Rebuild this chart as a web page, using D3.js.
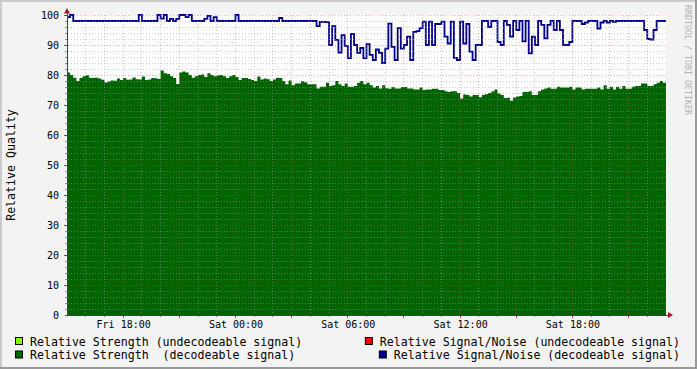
<!DOCTYPE html>
<html><head><meta charset="utf-8">
<script src="https://cdn.jsdelivr.net/npm/d3@7"></script>
<style>html,body{margin:0;padding:0;background:#f3f3f3;overflow:hidden}svg{display:block}</style>
</head><body>
<svg id="chart" width="697" height="369"></svg>
<script>
// ---- data ----
const startTime = new Date(2000, 0, 7, 15, 0);   // Fri 15:00
const endTime   = new Date(2000, 0, 8, 23, 0);   // Sat 23:00
const stepMinutes = 10;

// Relative Strength (decodeable signal), one value per 10 minutes
const strengthDecodeable = [
  80.8,80.0,79.1,78.0,79.0,79.6,79.9,79.1,79.0,79.1,78.8,78.4,77.5,77.8,78.2,78.1,
  78.8,78.3,79.0,78.4,78.5,79.2,78.6,78.5,79.5,78.3,78.5,79.0,78.9,78.7,81.5,80.6,
  80.3,79.6,79.0,77.0,80.8,81.2,80.8,80.0,79.1,79.6,80.0,80.2,79.3,80.6,80.0,79.6,
  79.8,80.0,79.6,79.0,79.6,80.0,79.3,78.3,79.0,79.0,78.7,78.3,78.0,79.5,78.5,78.8,78.6,
  78.0,78.5,79.1,79.0,78.0,76.9,78.2,76.6,77.2,77.2,77.9,77.6,76.9,76.9,76.9,75.5,
  76.1,76.1,77.4,76.3,76.6,78.0,76.9,76.3,77.2,76.1,76.1,76.3,77.4,78.0,76.9,77.4,
  76.6,75.8,76.3,75.5,76.6,75.6,75.4,76.0,75.5,75.5,76.0,76.0,75.5,75.5,75.2,75.2,
  75.8,75.0,75.2,75.2,75.4,75.4,75.0,75.0,74.6,74.3,74.6,74.6,74.0,72.2,73.5,73.3,
  72.8,73.3,73.3,72.6,73.3,73.6,74.0,74.5,75.2,73.8,73.3,72.3,72.4,71.4,72.5,72.8,
  73.0,74.3,74.3,74.6,73.3,73.3,74.6,75.2,75.5,75.8,75.4,75.4,76.1,75.8,75.8,75.8,
  76.1,75.2,75.8,75.8,75.2,75.4,75.4,75.4,75.4,75.8,75.2,76.6,75.4,76.1,75.2,76.1,
  75.4,76.3,75.4,75.4,76.1,76.3,76.3,77.2,77.2,76.3,76.3,76.9,77.4,78.0,77.4
];

// Relative Signal/Noise (decodeable signal), one value per 10 minutes
const snDecodeable = [
  99.3,100,98,98,98,98,98,98,98,98,98,98,98,98,98,98,98,98,98,98,98,98,98,100,
  98,98,98,98,98,100,98.8,100,
  98,98.7,98,98.7,100,100,99.3,100,98,98,98,98,98.7,99.7,98,99.3,
  98,98,98,98,98,98,100,98,98,98,98,98,98,98,98,98,98,98,98,98,99,
  98,98,98,98,98,98,98,98,98,98,98,
  96.3,97.7,97.7,97.6,90,96.3,91.7,87.5,93.3,89.7,85.6,93.7,90,87.4,89,85.6,90.3,
  86.7,85,88.5,87.4,84,88.8,97.1,89.4,85,95.6,88.8,90,92.8,85,94.4,94.6,95.6,97.8,
  90,97.8,90,97,97,97.8,92.8,90.5,97.8,85.7,85,97.8,90.5,97,
  87.8,85,90,90,98,98,96,98,98,91,90,98,96.7,92.8,98,95,98,91.2,98,87.2,92.8,90,
  98,96.7,92.2,96.7,98,95,98,95,90,90,
  91,98,98,98,97,97.5,98,98,98,95.5,97.5,98,97.5,98,97.7,
  98,98,98,98,98,98,98,98,98,95,92,91.8,95,98,98,98
];

const yTicks = [0,10,20,30,40,50,60,70,80,90,100];
const xTickTimes = [new Date(2000,0,7,18), new Date(2000,0,8,0), new Date(2000,0,8,6),
                    new Date(2000,0,8,12), new Date(2000,0,8,18)];
const xTickLabels = ["Fri 18:00","Sat 00:00","Sat 06:00","Sat 12:00","Sat 18:00"];

const legendLeft  = ["Relative Strength (undecodeable signal)", "Relative Strength  (decodeable signal)"];
const legendLeftColors = ["#7fff00", "#006600"];
const legendRight = ["Relative Signal/Noise (undecodeable signal)", "Relative Signal/Noise (decodeable signal)"];
const legendRightColors = ["#ff0000", "#000088"];

const yTitle = "Relative Quality";
const watermark = "RRDTOOL / TOBI OETIKER";

// ---- drawing ----
const W = 697, H = 369;
const X0 = 67, X1 = 666, Y0 = 315, Y1 = 15;
const MONO = "'DejaVu Sans Mono', monospace";
const svg = d3.select("#chart");

svg.append("rect").attr("width", W).attr("height", H).attr("fill", "#f3f3f3");
// 3D frame
svg.append("rect").attr("x",0).attr("y",0).attr("width",W).attr("height",2).attr("fill","#cbcbcb");
svg.append("rect").attr("x",0).attr("y",0).attr("width",2).attr("height",H).attr("fill","#cbcbcb");
svg.append("rect").attr("x",0).attr("y",H-2).attr("width",W).attr("height",2).attr("fill","#999");
svg.append("rect").attr("x",W-2).attr("y",0).attr("width",2).attr("height",H).attr("fill","#999");

const x = d3.scaleTime().domain([startTime, endTime]).range([X0, X1]);
const y = d3.scaleLinear().domain([0, 100]).range([Y0, Y1]);

svg.append("rect").attr("x", X0).attr("y", Y1).attr("width", X1 - X0).attr("height", Y0 - Y1).attr("fill", "#fff");

const stepMs = stepMinutes * 60000;
function toPts(arr) {
  const p = arr.map((v, i) => ({ t: new Date(+startTime + i * stepMs), v }));
  p.push({ t: endTime, v: arr[arr.length - 1] });
  return p;
}

const area = d3.area().x(d => x(d.t)).y0(y(0)).y1(d => y(d.v)).curve(d3.curveStepAfter);
svg.append("path").datum(toPts(strengthDecodeable)).attr("d", area).attr("fill", "#006400");

const line = d3.line().x(d => x(d.t)).y(d => y(d.v)).curve(d3.curveStepAfter);
svg.append("path").datum(toPts(snDecodeable)).attr("d", line)
  .attr("fill", "none").attr("stroke", "#000088").attr("stroke-width", 1.8);

// grid
const grid = svg.append("g").attr("shape-rendering", "crispEdges");
const minorY = d3.range(2, 101, 2).filter(v => v % 10 !== 0);
const majorY = d3.range(10, 101, 10);
minorY.forEach(v => {
  grid.append("line").attr("x1", X0 - 2).attr("x2", X1 + 2).attr("y1", y(v)).attr("y2", y(v))
    .attr("stroke", "#9f9f9f").attr("stroke-opacity", 0.5).attr("stroke-dasharray", "1,2");
  grid.append("line").attr("x1", X0 - 2).attr("x2", X0).attr("y1", y(v)).attr("y2", y(v))
    .attr("stroke", "#8f8f8f");
});
majorY.forEach(v => {
  grid.append("line").attr("x1", X0 - 2).attr("x2", X1 + 2).attr("y1", y(v)).attr("y2", y(v))
    .attr("stroke", "#e04040").attr("stroke-opacity", 0.42).attr("stroke-dasharray", "1,2");
  grid.append("line").attr("x1", X0 - 3).attr("x2", X0).attr("y1", y(v)).attr("y2", y(v))
    .attr("stroke", "#555");
});
const hours = d3.timeHour.range(d3.timeHour.offset(startTime, 1), endTime);
hours.forEach(t => {
  const major = t.getHours() % 3 === 0;
  const xx = x(t);
  grid.append("line").attr("x1", xx).attr("x2", xx).attr("y1", Y1).attr("y2", Y0 + 2)
    .attr("stroke", major ? "#e06060" : "#9f9f9f").attr("stroke-opacity", major ? 0.4 : 0.5)
    .attr("stroke-dasharray", "1,2");
  grid.append("line").attr("x1", xx).attr("x2", xx).attr("y1", Y0).attr("y2", Y0 + (major ? 3 : 2))
    .attr("stroke", major ? "#de3030" : "#8f8f8f");
});

// axes lines + arrows
svg.append("line").attr("x1", X0).attr("x2", X0).attr("y1", Y0).attr("y2", 12)
  .attr("stroke", "#2c4d43").attr("shape-rendering", "crispEdges");
svg.append("line").attr("x1", X0 - 2).attr("x2", X1 + 3).attr("y1", Y0).attr("y2", Y0)
  .attr("stroke", "#2c4d43").attr("shape-rendering", "crispEdges");
svg.append("path").attr("d", `M${X0-3},13.5L${X0+3},13.5L${X0},8Z`).attr("fill", "#a02020");
svg.append("path").attr("d", `M${X1+2},${Y0-3}L${X1+2},${Y0+3}L${X1+7},${Y0}Z`).attr("fill", "#a02020");

// tick labels via d3 axes
const yAxis = d3.axisLeft(y).tickValues(yTicks).tickSize(0).tickPadding(8).tickFormat(d3.format("d"));
const gy = svg.append("g").attr("transform", `translate(${X0},0)`).call(yAxis);
const xAxis = d3.axisBottom(x).tickValues(xTickTimes).tickSize(0).tickPadding(6)
  .tickFormat((d, i) => xTickLabels[i]);
const gx = svg.append("g").attr("transform", `translate(0,${Y0})`).call(xAxis);
[gy, gx].forEach(g => {
  g.select(".domain").remove();
  g.selectAll("text").attr("font-family", MONO).attr("font-size", "10px").attr("fill", "#000");
});

// y title
svg.append("text").attr("transform", `translate(15,165) rotate(-90)`)
  .attr("text-anchor", "middle").attr("font-family", MONO).attr("font-size", "11.6px")
  .attr("fill", "#000").text(yTitle);

// watermark
svg.append("text").attr("transform", `translate(685,5) rotate(90)`)
  .attr("font-family", MONO).attr("font-size", "8.3px").attr("fill", "#b0b0b0").text(watermark);

// legend
const rowBase = [345.5, 359];
legendLeft.forEach((lbl, i) => {
  svg.append("rect").attr("x", 15.5).attr("y", rowBase[i] - 8).attr("width", 7).attr("height", 7)
    .attr("fill", legendLeftColors[i]).attr("stroke", "#000");
  svg.append("text").attr("x", 30).attr("y", rowBase[i]).attr("font-family", MONO)
    .attr("font-size", "11.6px").attr("fill", "#000").attr("xml:space", "preserve")
    .style("white-space", "pre").text(lbl);
});
legendRight.forEach((lbl, i) => {
  const t = svg.append("text").attr("x", 680).attr("y", rowBase[i]).attr("text-anchor", "end")
    .attr("font-family", MONO).attr("font-size", "11.6px").attr("fill", "#000").text(lbl);
  const w = t.node().getComputedTextLength();
  svg.append("rect").attr("x", 680 - w - 15 + 0.5).attr("y", rowBase[i] - 8).attr("width", 7).attr("height", 7)
    .attr("fill", legendRightColors[i]).attr("stroke", "#000");
});
</script>
</body></html>
